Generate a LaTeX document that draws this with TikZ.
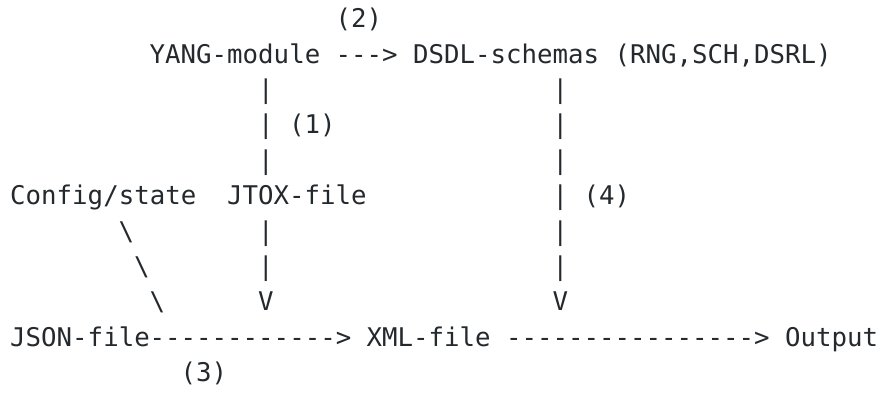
\documentclass[tikz,border=0pt]{standalone}
\usepackage{fontspec}
\setmonofont{DejaVu Sans Mono}
\usetikzlibrary{positioning}
\definecolor{inkgray}{RGB}{36,41,46}

\begin{document}
\begin{tikzpicture}[x=15.5pt, y=-35.4pt, font=\ttfamily\fontsize{25.75}{30}\selectfont, text=inkgray]
   \tikzstyle{every node}=[inner sep=0pt, outer sep=0pt, anchor=base west]
   \useasboundingbox (-0.661,0.22) rectangle (56.18,11.294);

   % names of the files
   \node (yang)   at (9,2)  {YANG-module};
   \node (dsdl)   at (26,2) {DSDL-schemas};
   \node (dsdlx)  at (39,2) {(RNG,SCH,DSRL)};
   \node (config) at (0,6)  {Config/state};
   \node (jtox)   at (14,6) {JTOX-file};
   \node (json)   at (0,10) {JSON-file};
   \node (xml)    at (23,10) {XML-file};
   \node (output) at (50,10) {Output};

   % step numbers
   \node (step2) at (21,1)  {(2)};
   \node (step1) at (18,4)  {(1)};
   \node (step4) at (37,6)  {(4)};
   \node (step3) at (11,11) {(3)};

   % ascii connectors
   \node (yang_dsdl) at (21,2) {--->};
   \foreach \r in {3,4,5,7,8}
      \node (yang_xml\r) at (16,\r) {|};
   \node (yang_xml9) at (16,9) {V};
   \foreach \r in {3,4,5,6,7,8}
      \node (dsdl_xml\r) at (35,\r) {|};
   \node (dsdl_xml9) at (35,9) {V};
   \foreach \r/\c in {7/7,8/8,9/9}
      \node (config_json\r) at (\c,\r) {\textbackslash};
   \node (json_xml)   at (9,10)  {------------>};
   \node (xml_output) at (32,10) {---------------->};
 \end{tikzpicture}
\end{document}
